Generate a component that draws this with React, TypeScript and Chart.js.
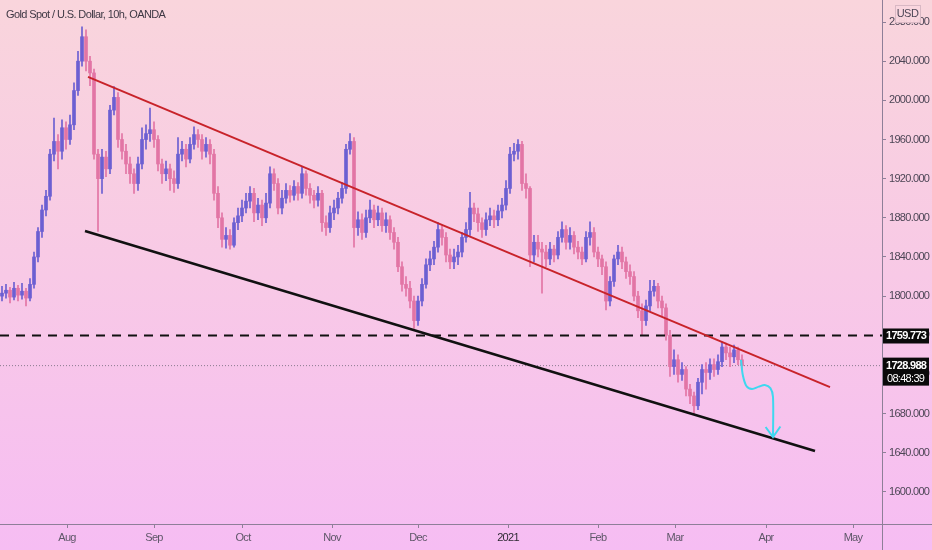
import React, { useEffect, useRef } from "react";
import { Chart, registerables } from "chart.js";

Chart.register(...registerables);

// ---------- data ----------
const TITLE = "Gold Spot / U.S. Dollar, 10h, OANDA";
const FIRST_OPEN = 1800;
const closes = [
  1803, 1806, 1799, 1808, 1801, 1805, 1798, 1812, 1840, 1866,
  1888, 1902, 1945, 1958, 1948, 1972, 1960, 1975, 2010, 2040,
  2065, 2040, 2028, 1945, 1920, 1942, 1930, 1990, 2003, 1960,
  1948, 1935, 1925, 1915, 1935, 1960, 1966, 1970, 1960, 1935,
  1925, 1930, 1920, 1915, 1945, 1950, 1940, 1955, 1965, 1960,
  1948, 1955, 1945, 1905, 1880, 1858, 1862, 1852, 1875, 1882,
  1890, 1897, 1905, 1885, 1893, 1880, 1895, 1925, 1915, 1890,
  1900, 1908, 1903, 1912, 1905, 1925, 1910, 1903, 1898, 1905,
  1875, 1870, 1885, 1890, 1900, 1910, 1950, 1958, 1870, 1878,
  1865, 1880, 1888, 1878, 1885, 1872, 1878, 1865, 1855, 1830,
  1812, 1808, 1795, 1775, 1795, 1812, 1832, 1838, 1850, 1868,
  1860, 1842, 1835, 1840, 1845, 1860, 1868, 1890, 1884, 1875,
  1868, 1878, 1882, 1878, 1887, 1893, 1910, 1945, 1948, 1955,
  1915, 1910, 1842, 1855, 1848, 1845, 1838, 1848, 1842, 1860,
  1868, 1855, 1862, 1850, 1845, 1838, 1860, 1865, 1845, 1838,
  1830, 1795, 1815, 1838, 1845, 1835, 1825, 1820, 1800, 1785,
  1775, 1790, 1805, 1810, 1795, 1788, 1760, 1728, 1735, 1720,
  1725, 1705, 1698, 1688, 1712, 1725, 1722, 1730, 1725, 1733,
  1748, 1742, 1738, 1745, 1735, 1729,
];
const highs = [
  1810, 1812, 1809, 1814, 1811, 1813, 1808, 1818, 1845, 1870,
  1893, 1908, 1950, 1982, 1965, 1980, 1978, 1985, 2018, 2050,
  2075, 2072, 2045, 2032, 1950, 1950, 1948, 1995, 2014, 2008,
  1966, 1955, 1942, 1930, 1942, 1972, 1975, 1992, 1978, 1964,
  1940, 1938, 1935, 1928, 1962, 1958, 1955, 1962, 1973, 1970,
  1965, 1962, 1960, 1950, 1912, 1885, 1870, 1868, 1880, 1890,
  1898, 1905, 1912, 1910, 1900, 1898, 1905, 1932, 1930, 1920,
  1908, 1915, 1913, 1918, 1916, 1932, 1928, 1915, 1908, 1912,
  1908, 1882, 1892, 1898, 1906, 1916, 1955, 1966, 1962, 1886,
  1884, 1888, 1898, 1893, 1892, 1890, 1885, 1882, 1870, 1860,
  1835, 1820, 1815, 1800, 1800, 1818, 1838, 1846, 1856, 1875,
  1872, 1865, 1848, 1848, 1852, 1865, 1875, 1906, 1895, 1890,
  1880, 1885, 1890, 1888, 1893, 1900, 1918, 1952, 1956, 1960,
  1958, 1925, 1912, 1862, 1862, 1855, 1852, 1855, 1852, 1866,
  1876, 1872, 1870, 1866, 1856, 1850, 1866, 1876, 1870, 1850,
  1842, 1835, 1820, 1842, 1852, 1850, 1840, 1832, 1825, 1805,
  1792, 1796, 1816, 1816, 1813, 1800, 1792, 1765, 1745, 1740,
  1732, 1728, 1710, 1702, 1716, 1730, 1732, 1736, 1736, 1740,
  1753, 1752, 1748, 1750, 1748, 1740,
];
const lows = [
  1795, 1798, 1793, 1796, 1795, 1797, 1790, 1795, 1808, 1835,
  1860, 1882, 1898, 1938, 1930, 1940, 1950, 1955, 1970, 2005,
  2035, 2030, 2015, 1940, 1866, 1905, 1922, 1925, 1985, 1952,
  1940, 1925, 1915, 1905, 1908, 1930, 1950, 1958, 1952, 1928,
  1915, 1918, 1908, 1906, 1910, 1938, 1932, 1936, 1950, 1952,
  1940, 1942, 1935, 1898, 1870, 1850, 1849, 1848, 1850, 1868,
  1876, 1885, 1890, 1876, 1878, 1872, 1875, 1890, 1908, 1884,
  1884, 1895, 1896, 1898, 1898, 1900, 1903, 1895, 1890, 1892,
  1866, 1862, 1865, 1878, 1884, 1895, 1905, 1945, 1850, 1862,
  1858, 1860, 1875, 1870, 1872, 1866, 1865, 1858, 1848, 1825,
  1805, 1800, 1788, 1767, 1770, 1790, 1808, 1826, 1832, 1845,
  1852, 1835, 1828, 1828, 1832, 1840, 1855, 1862, 1876, 1866,
  1860, 1862, 1872, 1870, 1872, 1880, 1888, 1905, 1938, 1940,
  1908, 1900, 1830, 1835, 1840, 1803, 1830, 1832, 1835, 1838,
  1855, 1848, 1848, 1843, 1838, 1832, 1835, 1852, 1840, 1830,
  1822, 1786, 1790, 1810, 1832, 1828, 1818, 1812, 1795, 1778,
  1760, 1770, 1785, 1800, 1788, 1780, 1755, 1718, 1720, 1712,
  1714, 1698, 1690, 1680, 1684, 1700, 1705, 1715, 1718, 1720,
  1728, 1735, 1728, 1732, 1730, 1725,
];

const monthTicks = [
  { value: 16.25, label: "Aug" },
  { value: 38, label: "Sep" },
  { value: 60.25, label: "Oct" },
  { value: 82.5, label: "Nov" },
  { value: 104, label: "Dec" },
  { value: 126.5, label: "2021" },
  { value: 149, label: "Feb" },
  { value: 168.25, label: "Mar" },
  { value: 191, label: "Apr" },
  { value: 212.75, label: "May" },
];
const priceTicks = [1600, 1640, 1680, 1720, 1760, 1800, 1840, 1880, 1920, 1960, 2000, 2040, 2080];

// trend lines: [index, price]
const redLine = [
  [21.5, 2024],
  [207, 1707],
];
const blackLine = [
  [20.75, 1866.5],
  [203.25, 1641.8],
];
const RESISTANCE = 1759.773;
const LAST_PRICE = 1728.988;
const COUNTDOWN = "08:48:39";
const arrowPath = [
  [184.75, 1734.8],
  [185.2, 1719.4],
  [186.1, 1708.2],
  [187.5, 1705.1],
  [189.2, 1707.5],
  [190.7, 1709.2],
  [192.1, 1706],
  [192.75, 1697],
  [192.75, 1656],
];
const arrowHead = [
  [190.9, 1666.3],
  [192.75, 1656],
  [194.6, 1666.8],
];

const X_MIN = -0.5;
const X_MAX = 220;
const Y_MIN = 1567.2;
const Y_MAX = 2102.5;

const UP = "#6c5fd2";
const DOWN = "#e275a5";
const AXIS = "#8e7f98";
const TEXT = "#4d4656";
const FONT = "'Liberation Sans', Arial, sans-serif";

export default function App() {
  const ref = useRef<HTMLCanvasElement | null>(null);

  useEffect(() => {
    if (!ref.current) return;
    const opens = closes.map((_, i) => (i === 0 ? FIRST_OPEN : closes[i - 1]));
    const colors = closes.map((c, i) => (c >= opens[i] ? UP : DOWN));
    const wickData = closes.map((_, i) => ({ x: i, y: [lows[i], highs[i]] }));
    const bodyData = closes.map((c, i) => ({ x: i, y: [opens[i], c] }));
    const toXY = (arr: number[][]) => arr.map(([x, y]) => ({ x, y }));

    const overlay = {
      id: "overlay",
      beforeInit(chart: any) {
        (chart.ctx as any).letterSpacing = "-0.7px";
      },
      beforeDraw(chart: any) {
        const { ctx, width, height } = chart;
        (ctx as any).letterSpacing = "-0.7px";
        const g = ctx.createLinearGradient(0, 0, 0, height);
        g.addColorStop(0, "#f9d5dc");
        g.addColorStop(0.5, "#f8c9e6");
        g.addColorStop(1, "#f6bdf3");
        ctx.save();
        ctx.fillStyle = g;
        ctx.fillRect(0, 0, width, height);
        ctx.restore();
      },
      afterDraw(chart: any) {
        const { ctx, chartArea, width, height } = chart;
        const ys = chart.scales.y;
        ctx.save();
        // full-length axis lines
        ctx.strokeStyle = AXIS;
        ctx.lineWidth = 1;
        ctx.beginPath();
        ctx.moveTo(chartArea.right + 0.5, 0);
        ctx.lineTo(chartArea.right + 0.5, height);
        ctx.moveTo(0, chartArea.bottom + 0.5);
        ctx.lineTo(width, chartArea.bottom + 0.5);
        ctx.stroke();

        // title
        (ctx as any).letterSpacing = "-0.6px";
        ctx.fillStyle = "#3e3844";
        ctx.font = `11px ${FONT}`;
        ctx.textBaseline = "middle";
        ctx.textAlign = "left";
        ctx.fillText(TITLE, 6, 15);

        // USD label
        (ctx as any).letterSpacing = "-0.5px";
        ctx.fillStyle = "rgba(250,214,222,0.95)";
        ctx.fillRect(895, 5, 25, 17);
        ctx.strokeStyle = "#d9b8c4";
        ctx.strokeRect(895.5, 5.5, 25, 17);
        ctx.fillStyle = "#4d4656";
        ctx.font = `11px ${FONT}`;
        ctx.textAlign = "center";
        ctx.fillText("USD", 907.5, 14);

        // price label boxes
        (ctx as any).letterSpacing = "-0.7px";
        const bx = chartArea.right + 1;
        const bw = 46;
        const y1 = ys.getPixelForValue(RESISTANCE);
        ctx.fillStyle = "#0a0a0a";
        ctx.fillRect(bx, y1 - 7, bw, 15);
        ctx.fillStyle = "#ffffff";
        ctx.font = `bold 11px ${FONT}`;
        ctx.textAlign = "left";
        ctx.fillText(RESISTANCE.toFixed(3), bx + 3, y1 + 0.5);

        const y2 = ys.getPixelForValue(LAST_PRICE);
        ctx.fillStyle = "#0a0a0a";
        ctx.fillRect(bx, y2 - 8, bw, 28);
        ctx.fillStyle = "#ffffff";
        ctx.font = `bold 11px ${FONT}`;
        ctx.fillText(LAST_PRICE.toFixed(3), bx + 3, y2 + 0.5);
        ctx.font = `11px ${FONT}`;
        ctx.fillText(COUNTDOWN, bx + 4, y2 + 13.5);
        ctx.restore();
      },
    };

    const chart = new Chart(ref.current, {
      type: "bar",
      data: {
        datasets: [
          {
            type: "line",
            data: [
              { x: X_MIN, y: LAST_PRICE },
              { x: X_MAX, y: LAST_PRICE },
            ],
            borderColor: "#8a7a8e",
            borderWidth: 1,
            borderDash: [1, 2],
            pointRadius: 0,
            order: 5,
          } as any,
          {
            label: "wick",
            data: wickData as any,
            backgroundColor: colors,
            barThickness: 1,
            order: 4,
          },
          {
            label: "body",
            data: bodyData as any,
            backgroundColor: colors,
            barThickness: 3,
            minBarLength: 1,
            order: 3,
          },
          {
            type: "line",
            data: [
              { x: X_MIN, y: RESISTANCE },
              { x: X_MAX, y: RESISTANCE },
            ],
            borderColor: "#111111",
            borderWidth: 2,
            borderDash: [9, 7],
            pointRadius: 0,
            order: 2,
          } as any,
          {
            type: "line",
            data: toXY(redLine),
            borderColor: "#c8232a",
            borderWidth: 2,
            pointRadius: 0,
            order: 1,
          } as any,
          {
            type: "line",
            data: toXY(blackLine),
            borderColor: "#111111",
            borderWidth: 2.5,
            pointRadius: 0,
            order: 1,
          } as any,
          {
            type: "line",
            data: toXY(arrowPath),
            borderColor: "#3fd8ef",
            borderWidth: 2,
            tension: 0.3,
            pointRadius: 0,
            order: 0,
          } as any,
          {
            type: "line",
            data: toXY(arrowHead),
            borderColor: "#3fd8ef",
            borderWidth: 2,
            tension: 0,
            pointRadius: 0,
            order: 0,
          } as any,
        ],
      },
      options: {
        responsive: false,
        animation: false,
        devicePixelRatio: 1,
        layout: { padding: 0 },
        datasets: { bar: { grouped: false } } as any,
        plugins: {
          legend: { display: false },
          tooltip: { enabled: false },
        },
        scales: {
          x: {
            type: "linear",
            min: X_MIN,
            max: X_MAX,
            offset: false,
            afterBuildTicks: (s: any) => {
              s.ticks = monthTicks.map((t) => ({ value: t.value }));
            },
            afterFit: (s: any) => {
              s.height = 26;
              s.paddingLeft = 0;
              s.paddingRight = 0;
            },
            ticks: {
              autoSkip: false,
              maxRotation: 0,
              padding: 3,
              color: (c: any) => (c.tick && c.tick.value === 126.5 ? "#2e2a33" : "#5e5668"),
              font: { family: FONT, size: 11 },
              callback: (v: any) => {
                const t = monthTicks.find((m) => Math.abs(m.value - Number(v)) < 0.01);
                return t ? t.label : "";
              },
            },
            grid: { offset: false, drawOnChartArea: false, drawTicks: true, tickLength: 4, color: AXIS },
            border: { display: false },
          },
          y: {
            type: "linear",
            position: "right",
            min: Y_MIN,
            max: Y_MAX,
            afterBuildTicks: (s: any) => {
              s.ticks = priceTicks.map((v) => ({ value: v }));
            },
            afterFit: (s: any) => {
              s.width = 50;
              s.paddingTop = 0;
              s.paddingBottom = 0;
            },
            ticks: {
              padding: 3,
              color: TEXT,
              font: { family: FONT, size: 11 },
              callback: (v: any) => Number(v).toFixed(3),
            },
            grid: { offset: false, drawOnChartArea: false, drawTicks: true, tickLength: 4, color: AXIS },
            border: { display: false },
          },
        },
      },
      plugins: [overlay],
    });
    return () => chart.destroy();
  }, []);

  return (
    <div style={{ position: "fixed", left: 0, top: 0, width: 932, height: 550 }}>
      <canvas ref={ref} width={932} height={550} style={{ width: 932, height: 550, display: "block" }} />
    </div>
  );
}
